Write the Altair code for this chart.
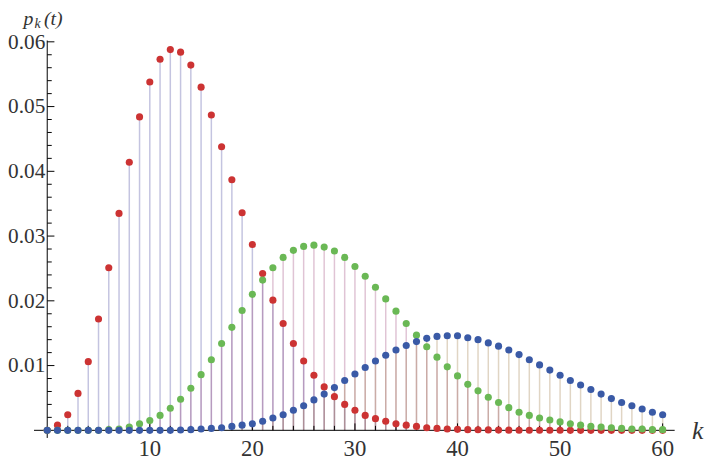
import altair as alt
import pandas as pd

# ---------------- data ----------------
k = list(range(61))

red = [0.0000, 0.0008, 0.0024, 0.0057, 0.0106, 0.0172, 0.0251, 0.0335, 0.0414, 0.0484,
       0.0538, 0.0573, 0.0588, 0.0584, 0.0564, 0.0530, 0.0487, 0.0438, 0.0387, 0.0336,
       0.0287, 0.0242, 0.0201, 0.0165, 0.0134, 0.0107, 0.0085, 0.0067, 0.0052, 0.0040,
       0.0031, 0.0023, 0.0018, 0.0014, 0.0010, 0.0008, 0.0006, 0.0004, 0.0003, 0.0002,
       0.00015, 0.0001, 0.00008, 0.00006, 0.00004, 0.00003, 0.00002, 0.00002, 0.00001, 0.00001,
       0.00001, 0.0, 0.0, 0.0, 0.0, 0.0, 0.0, 0.0, 0.0, 0.0, 0.0]

green = [0.0, 0.0, 0.0, 0.0, 0.0, 0.0, 0.0001, 0.0002, 0.0005, 0.0010,
         0.0015, 0.0023, 0.0034, 0.0048, 0.0065, 0.0086, 0.0109, 0.0134, 0.0159, 0.0185,
         0.0210, 0.0232, 0.0251, 0.0267, 0.0278, 0.0284, 0.0286, 0.0283, 0.0277, 0.0267,
         0.0253, 0.0238, 0.0221, 0.0203, 0.0184, 0.0165, 0.0147, 0.0129, 0.0113, 0.0098,
         0.0084, 0.0071, 0.0061, 0.0051, 0.0043, 0.0035, 0.0028, 0.0023, 0.0019, 0.0016,
         0.0013, 0.0010, 0.0008, 0.0006, 0.0005, 0.0004, 0.0003, 0.0002, 0.0002, 0.0001, 0.0001]

blue = [0.0, 0.0, 0.0, 0.0, 0.0, 0.0, 0.0, 0.0, 0.0, 0.0,
        0.0, 0.0, 0.0, 0.00005, 0.0001, 0.0002, 0.0003, 0.0004, 0.0006, 0.0008,
        0.0010, 0.0014, 0.0019, 0.0024, 0.0031, 0.0038, 0.0047, 0.0056, 0.0066, 0.0077,
        0.0087, 0.0097, 0.0107, 0.0116, 0.0124, 0.0131, 0.0137, 0.0142, 0.0145, 0.0146,
        0.0146, 0.0143, 0.0140, 0.0135, 0.0130, 0.0124, 0.0117, 0.0109, 0.0101, 0.0093,
        0.0085, 0.0077, 0.0070, 0.0063, 0.0056, 0.0049, 0.0043, 0.0038, 0.0033, 0.0028, 0.0024]

x_labels = [10, 20, 30, 40, 50, 60]
x_minor = [2, 4, 6, 8, 12, 14, 16, 18, 22, 24, 26, 28, 32, 34, 36, 38,
           42, 44, 46, 48, 52, 54, 56, 58]
y_labels = [0.01, 0.02, 0.03, 0.04, 0.05, 0.06]
y_label_text = ["0.01", "0.02", "0.03", "0.04", "0.05", "0.06"]
y_minor = [0.002, 0.004, 0.006, 0.008, 0.012, 0.014, 0.016, 0.018,
           0.022, 0.024, 0.026, 0.028, 0.032, 0.034, 0.036, 0.038,
           0.042, 0.044, 0.046, 0.048, 0.052, 0.054, 0.056, 0.058]

# ---------------- styling ----------------
XMIN, XMAX = -1.29, 61.17
YMIN, YMAX = -0.00118, 0.0602
W, H = 648, 402
FONT = "Liberation Serif"

xs = alt.Scale(domain=[XMIN, XMAX], nice=False, zero=False)
ys = alt.Scale(domain=[YMIN, YMAX], nice=False, zero=False)

pt_colors = ["#cc3333", "#6ab855", "#3a5aa6"]
stem_colors = ["#3d3d99", "#993d74", "#99743d"]
series = [red, green, blue]

layers = []
# stems
for vals, col in zip(series, stem_colors):
    df = pd.DataFrame({"k": k, "p": vals, "p0": [0.0] * len(k)})
    layers.append(
        alt.Chart(df).mark_rule(strokeWidth=1.5, opacity=0.3, color=col).encode(
            x=alt.X("k:Q", scale=xs, axis=None),
            y=alt.Y("p:Q", scale=ys, axis=None),
            y2="p0:Q",
        )
    )

# axes lines
xaxis_df = pd.DataFrame({"k": [XMIN], "k2": [XMAX], "p": [0.0]})
yaxis_df = pd.DataFrame({"k": [0.0], "p": [YMIN], "p2": [YMAX]})
layers.append(alt.Chart(xaxis_df).mark_rule(color="black", strokeWidth=1).encode(
    x=alt.X("k:Q", scale=xs, axis=None), x2="k2:Q", y=alt.Y("p:Q", scale=ys, axis=None)))
layers.append(alt.Chart(yaxis_df).mark_rule(color="black", strokeWidth=1).encode(
    x=alt.X("k:Q", scale=xs, axis=None), y=alt.Y("p:Q", scale=ys, axis=None), y2="p2:Q"))

# ticks (inward), lengths in data units (~7px major, ~4.5px minor)
XT_MAJ, XT_MIN = 0.00107, 0.00069
YT_MAJ, YT_MIN = 0.70, 0.44
xt = pd.DataFrame({"k": x_labels + x_minor,
                   "p": [0.0] * (len(x_labels) + len(x_minor)),
                   "p2": [XT_MAJ] * len(x_labels) + [XT_MIN] * len(x_minor)})
yt = pd.DataFrame({"p": y_labels + y_minor,
                   "k": [0.0] * (len(y_labels) + len(y_minor)),
                   "k2": [YT_MAJ] * len(y_labels) + [YT_MIN] * len(y_minor)})
layers.append(alt.Chart(xt).mark_rule(color="black", strokeWidth=1).encode(
    x=alt.X("k:Q", scale=xs, axis=None), y=alt.Y("p:Q", scale=ys, axis=None), y2="p2:Q"))
layers.append(alt.Chart(yt).mark_rule(color="black", strokeWidth=1).encode(
    x=alt.X("k:Q", scale=xs, axis=None), x2="k2:Q", y=alt.Y("p:Q", scale=ys, axis=None)))

# points (red, then green, then blue on top)
for vals, col in zip(series, pt_colors):
    df = pd.DataFrame({"k": k, "p": vals})
    layers.append(
        alt.Chart(df).mark_circle(size=52, opacity=1, color=col).encode(
            x=alt.X("k:Q", scale=xs, axis=None),
            y=alt.Y("p:Q", scale=ys, axis=None),
        )
    )

# tick labels
xl = pd.DataFrame({"k": x_labels, "p": [0.0] * len(x_labels), "t": [str(v) for v in x_labels]})
yl = pd.DataFrame({"k": [0.0] * len(y_labels), "p": y_labels, "t": y_label_text})
layers.append(alt.Chart(xl).mark_text(font=FONT, fontSize=23, color="#333333",
                                      baseline="alphabetic", align="center", dy=26).encode(
    x=alt.X("k:Q", scale=xs, axis=None), y=alt.Y("p:Q", scale=ys, axis=None), text="t:N"))
layers.append(alt.Chart(yl).mark_text(font=FONT, fontSize=21.5, color="#333333",
                                      baseline="middle", align="right", dx=-2, dy=1).encode(
    x=alt.X("k:Q", scale=xs, axis=None), y=alt.Y("p:Q", scale=ys, axis=None), text="t:N"))

# axis titles: p_k(t) and k
def txt(s, x, y, size):
    return alt.Chart(pd.DataFrame({"t": [s]})).mark_text(
        font=FONT, fontSize=size, fontStyle="italic", color="#333333",
        align="left", baseline="alphabetic").encode(
        x=alt.value(x), y=alt.value(y), text="t:N")

layers.append(txt("p", -10.5, -15.5, 20))
layers.append(txt("k", 0.4, -13.0, 14))
layers.append(txt("(t)", 10.0, -15.5, 20))
layers.append(txt("k", 665.5, 402.7, 26))

chart = alt.layer(*layers).properties(
    width=W, height=H,
    autosize=alt.AutoSizeParams(type="none"),
    padding={"left": 26.3, "top": 30.3, "right": 31.7, "bottom": 20},
).configure(font=FONT).configure_text(font=FONT).configure_view(stroke=None)

chart.save("out.html", embed_options={"renderer": "svg", "actions": False})
